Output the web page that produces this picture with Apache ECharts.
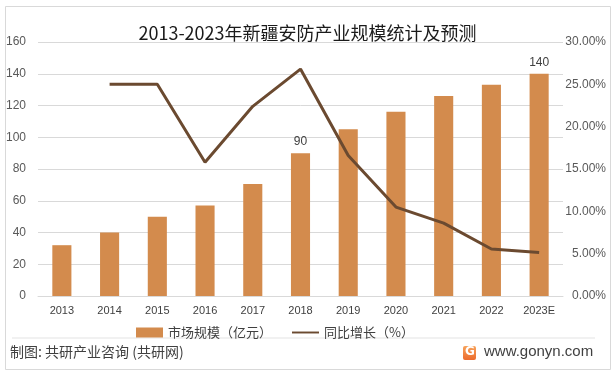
<!DOCTYPE html>
<html>
<head>
<meta charset="utf-8">
<script src="https://cdn.jsdelivr.net/npm/echarts@6/dist/echarts.min.js"></script>
<style>
html,body{margin:0;padding:0;background:#fff;}
#c{width:615px;height:371px;}
</style>
</head>
<body>
<div id="c"></div>
<script>
const categories = ['2013','2014','2015','2016','2017','2018','2019','2020','2021','2022','2023E'];
const marketSize = [32, 40, 50, 57, 70.5, 90, 105, 116, 126, 133, 140];
const growthRate = [null, 25.0, 25.0, 15.8, 22.4, 26.8, 16.6, 10.5, 8.6, 5.55, 5.15];
const leftTicks = [0, 20, 40, 60, 80, 100, 120, 140, 160];
const rightTicks = [0, 5, 10, 15, 20, 25, 30];
const labeledBars = ['2018', '2023E'];

const cjk = '"Noto Sans CJK SC", "Noto Sans", sans-serif';
const narrow = '"Liberation Sans Narrow", "Liberation Sans", sans-serif';

const chart = echarts.init(document.getElementById('c'), null, {renderer: 'canvas'});
chart.setOption({
  animation: false,
  backgroundColor: '#fff',
  title: {
    text: '2013-2023年新疆安防产业规模统计及预测',
    left: 'center',
    top: 19,
    textStyle: {fontFamily: cjk, fontSize: 18, fontWeight: 'normal', color: '#1a1a1a'}
  },
  grid: {left: 38, right: 52, top: 42, bottom: 75, containLabel: false},
  legend: {
    left: 131,
    top: 321,
    itemGap: 20,
    itemWidth: 27,
    itemHeight: 10,
    textStyle: {fontFamily: cjk, fontSize: 13, color: '#404040'},
    data: [
      {name: '市场规模（亿元）', icon: 'rect'},
      {name: '同比增长（%）', icon: 'path://M0,4L28,4L28,6L0,6Z'}
    ]
  },
  xAxis: {
    type: 'category',
    data: categories,
    axisLine: {show: true, lineStyle: {color: '#d9d9d9'}},
    axisTick: {show: false},
    axisLabel: {fontFamily: narrow, fontSize: 11, color: '#404040', margin: 9, interval: 0}
  },
  yAxis: [
    {
      type: 'value', min: leftTicks[0], max: leftTicks[leftTicks.length - 1], interval: 20,
      axisLine: {show: false}, axisTick: {show: false},
      splitLine: {lineStyle: {color: '#d9d9d9', width: 1}},
      axisLabel: {fontFamily: narrow, fontSize: 12, color: '#595959', margin: 12}
    },
    {
      type: 'value', min: rightTicks[0], max: rightTicks[rightTicks.length - 1], interval: 5,
      axisLine: {show: false}, axisTick: {show: false},
      splitLine: {show: false},
      axisLabel: {fontFamily: narrow, fontSize: 12, color: '#595959', margin: 43, align: 'right',
        formatter: v => v.toFixed(2) + '%'}
    }
  ],
  series: [
    {
      name: '市场规模（亿元）',
      type: 'bar',
      yAxisIndex: 0,
      barWidth: '40%',
      itemStyle: {color: '#d38b4d'},
      data: marketSize.map((v, i) => ({
        value: v,
        label: {show: labeledBars.includes(categories[i]), position: 'top', distance: 5,
          fontFamily: narrow, fontSize: 12, color: '#404040'}
      }))
    },
    {
      name: '同比增长（%）',
      type: 'line',
      yAxisIndex: 1,
      symbol: 'none',
      connectNulls: false,
      lineStyle: {color: '#6b4a30', width: 3},
      itemStyle: {color: '#6b4a30'},
      data: growthRate
    }
  ],
  graphic: [
    {type: 'rect', left: 3, top: 4, shape: {width: 605, height: 363},
      style: {fill: 'none', stroke: '#d9d9d9', lineWidth: 1}, silent: true},
    {type: 'line', shape: {x1: 12, y1: 338, x2: 595, y2: 338},
      style: {stroke: '#e3e3e3', lineWidth: 1}, silent: true},
    {type: 'text', left: 10, top: 345,
      style: {text: '制图: 共研产业咨询 (共研网)', fontFamily: cjk, fontSize: 14, fill: '#404040'}},
    {type: 'rect', left: 463, top: 346, shape: {width: 13, height: 14, r: 2},
      style: {fill: new echarts.graphic.LinearGradient(0, 0, 0, 1, [{offset: 0, color: '#f7a25a'}, {offset: 1, color: '#ec6b2d'}])}},
    {type: 'text', left: 465, top: 346,
      style: {text: 'G', fontFamily: '"DejaVu Sans", sans-serif', fontWeight: 'bold', fontSize: 12, fill: '#fff'}},
    {type: 'text', left: 484, top: 344,
      style: {text: 'www.gonyn.com', fontFamily: '"Liberation Sans", sans-serif', fontSize: 15, fill: '#404040'}}
  ]
});
</script>
</body>
</html>
